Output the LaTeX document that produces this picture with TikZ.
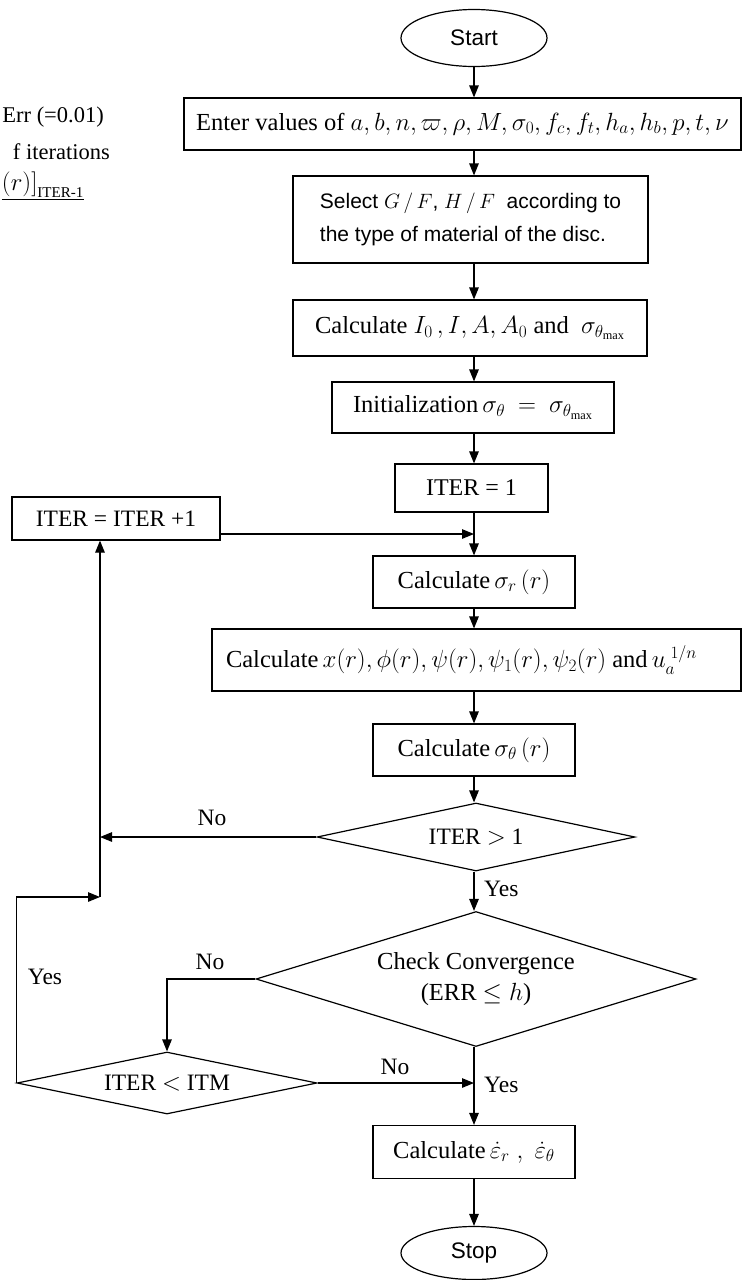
\documentclass[tikz,border=0pt]{standalone}
\usepackage{fontspec}
\setmainfont{Liberation Serif}
\newfontfamily\sansf{Liberation Sans}
\usetikzlibrary{shapes.geometric,arrows.meta}
\tikzset{
  base/.style={line width=1.2pt,inner sep=0pt},
  box/.style={base,draw,rectangle,font=\fontsize{24.5}{28}\selectfont},
  term/.style={base,draw,ellipse,font=\sansf\fontsize{22.5}{26}\selectfont},
  decision/.style={base,draw,diamond,font=\fontsize{23.5}{31}\selectfont,align=center},
  arr/.style={line width=1.2pt,-{Triangle[length=12pt,width=9.5pt]}},
  lbl/.style={inner sep=0pt,font=\fontsize{23.5}{26}\selectfont},
  side/.style={inner sep=0pt,anchor=east,font=\fontsize{22.5}{26}\selectfont}
}
\begin{document}
\begin{tikzpicture}[x=1pt,y=-1pt]
\useasboundingbox (0,0) rectangle (742,1280);
% side text (cut at left edge)
\node[side] (t1) at (104,117) {Err (=0.01)};
\node[side] (t2) at (110,152) {f iterations};
\node[side,font=\fontsize{25}{28}\selectfont] (t3) at (84,186) {$\underline{(r)\Big]_{\hbox{\fontsize{15}{16}\selectfont ITER-1}}}$};
% main column
\node[term,minimum width=146pt,minimum height=57pt] (start) at (474,38) {Start};
\node[box,minimum width=557pt,minimum height=52pt] (enter) at (462.5,124)
  {Enter values of $a,b,n,\varpi,\rho,M,\sigma_0,f_c,f_t,h_a,h_b,p,t,\nu$};
\node[box,minimum width=355pt,minimum height=87pt,align=left,font=\sansf\fontsize{21}{33}\selectfont] (select) at (470.5,219.5)
  {Select $G\,/\,F$, $H\,/\,F$ \ according to\\the type of material of the disc.};
\node[box,minimum width=354pt,minimum height=56pt] (calcI) at (470,328)
  {Calculate $I_0\,,I,A,A_0$ and \ $\sigma_{\theta_{\max}}$};
\node[box,minimum width=282pt,minimum height=51pt] (init) at (473,407.5)
  {Initialization$\,\sigma_\theta\ =\ \sigma_{\theta_{\max}}$};
\node[box,minimum width=153pt,minimum height=48pt,font=\fontsize{24}{28}\selectfont] (iter1) at (471.5,488) {ITER = 1};
\coordinate (jn) at (474,534);
\node[box,minimum width=208pt,minimum height=43pt,font=\fontsize{23.5}{28}\selectfont] (iterplus) at (116,518.5) {ITER = ITER +1};
\node[box,minimum width=202pt,minimum height=52pt] (calcsr) at (474,582)
  {Calculate$\,\sigma_r\,(r)$};
\node[box,minimum width=529pt,minimum height=62pt] (calcx) at (476.5,660)
  {Calculate$\,x(r),\phi(r),\psi(r),\psi_1(r),\psi_2(r)$ and$\,u_a^{\;1/n}$\hspace*{30pt}};
\node[box,minimum width=202pt,minimum height=52pt] (calcst) at (474,750)
  {Calculate$\,\sigma_\theta\,(r)$};
\node[decision,minimum width=318pt,minimum height=68pt,aspect=4.7] (d1) at (476,837) {ITER $>$ 1};
\node[decision,minimum width=440pt,minimum height=135pt,aspect=3.2,font=\fontsize{24.5}{31}\selectfont] (d2) at (476,979)
  {Check Convergence\\(ERR $\le h$)};
\node[decision,minimum width=300pt,minimum height=62pt,aspect=4.9] (d3) at (167,1083) {ITER $<$ ITM};
\node[box,minimum width=202pt,minimum height=53pt] (calce) at (474,1152)
  {Calculate$\,\dot\varepsilon_r\;,\;\dot\varepsilon_\theta$};
\node[term,minimum width=146pt,minimum height=53pt] (stop) at (474,1253) {Stop};
\coordinate (lb) at (100,897);
% connectors
\draw[arr] (start.south -| jn) -- (enter.north -| jn);
\draw[arr] (enter.south -| jn) -- (select.north -| jn);
\draw[arr] (select.south -| jn) -- (calcI.north -| jn);
\draw[arr] (calcI.south -| jn) -- (init.north -| jn);
\draw[arr] (init.south -| jn) -- (iter1.north -| jn);
\draw[arr] (iter1.south -| jn) -- (calcsr.north -| jn);
\draw[arr] (iterplus.east |- jn) -- (jn);
\draw[arr] (calcsr.south -| jn) -- (calcx.north -| jn);
\draw[arr] (calcx.south -| jn) -- (calcst.north -| jn);
\draw[arr] (calcst.south -| jn) -- (d1.north -| jn);
\draw[arr] (d1.south -| jn) -- (d2.north -| jn);
\draw[arr] (d2.south -| jn) -- (calce.north -| jn);
\draw[arr] (calce.south -| jn) -- (stop.north -| jn);
\draw[arr] (d1.west) -- (d1.west -| lb);
\draw[arr] (d3.west) -- (d3.west |- lb) -- (lb);
\draw[arr] (lb) -- (lb |- iterplus.south);
\draw[arr] (d2.west) -| (d3.north);
\draw[arr] (d3.east) -- (d3.east -| jn);
% labels
\node[lbl] (n1) at (212,818) {No};
\node[lbl,anchor=west] (y1) at (484,889) {Yes};
\node[lbl] (n2) at (210,962) {No};
\node[lbl] (y2) at (45,977) {Yes};
\node[lbl] (n3) at (395,1067) {No};
\node[lbl,anchor=west] (y3) at (484,1085) {Yes};
\end{tikzpicture}
\end{document}
